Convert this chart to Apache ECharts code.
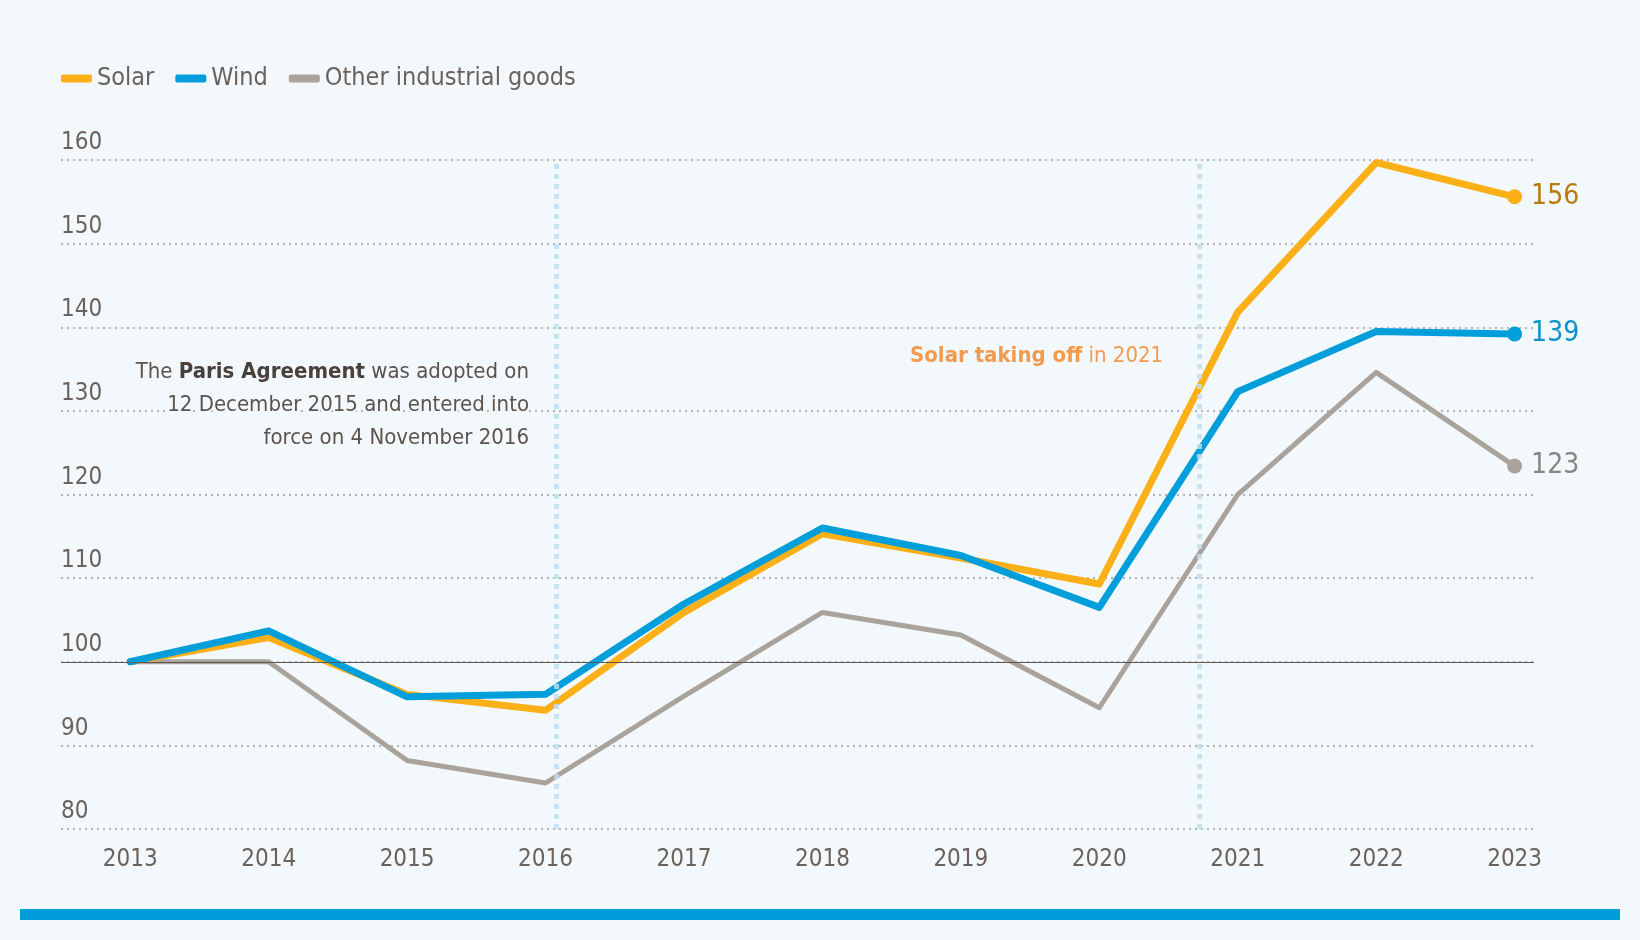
<!DOCTYPE html>
<html>
<head>
<meta charset="utf-8">
<style>
html,body{margin:0;padding:0;background:#f3f8fc;}
#chart{width:1640px;height:940px;}
</style>
<script src="https://cdn.jsdelivr.net/npm/echarts@6/dist/echarts.min.js"></script>
</head>
<body>
<div id="chart"></div>
<script>
var years = [2013, 2014, 2015, 2016, 2017, 2018, 2019, 2020, 2021, 2022, 2023];
var solar = [100, 102.9, 96.1, 94.2, 105.9, 115.3, 112.4, 109.3, 141.8, 159.7, 155.6];
var wind  = [100, 103.7, 95.8, 96.1, 106.9, 116.0, 112.7, 106.5, 132.3, 139.5, 139.2];
var other = [100, 100.0, 88.2, 85.5, 95.9, 105.9, 103.2, 94.5, 120.0, 134.6, 123.4];
var endLabels = ['156', '139', '123'];
var seriesNames = ['Solar', 'Wind', 'Other industrial goods'];
var eventYears = [2016.08, 2020.72];
var baseline = 100;
var yTicks = [80, 90, 100, 110, 120, 130, 140, 150, 160];
var parisLines = [
  'The {b|Paris Agreement} was adopted on',
  '12 December 2015 and entered into',
  'force on 4 November 2016'
];
var solarNote = '{b|Solar taking off} in 2021';

var FONT = "'Liberation Sans Narrow', 'DejaVu Sans Condensed', 'Roboto', sans-serif";
var TXT = '#6b625b';
var BG = '#f3f8fc';

function pairs(vals) { return years.map(function (y, i) { return [y, vals[i]]; }); }

function makeSeries(name, vals, color, width, labelText, labelColor, z) {
  var data = pairs(vals).map(function (p, i) {
    if (i === vals.length - 1) {
      return {
        value: p, symbol: 'circle', symbolSize: 15,
        label: { show: true, position: 'right', distance: 9, formatter: labelText,
                 color: labelColor, fontSize: 28, fontFamily: FONT }
      };
    }
    return { value: p, symbol: 'none' };
  });
  return {
    name: name, type: 'line', data: data, z: z,
    lineStyle: { color: color, width: width, cap: 'round', join: 'round' },
    itemStyle: { color: color },
    emphasis: { disabled: true },
    silent: true, animation: false
  };
}

var sOther = makeSeries(seriesNames[2], other, '#aaa39c', 5, endLabels[2], '#8a847e', 2);
var sSolar = makeSeries(seriesNames[0], solar, '#fbb017', 7, endLabels[0], '#b87a0a', 3);
var sWind  = makeSeries(seriesNames[1], wind, '#009fdb', 7, endLabels[1], '#0a93c8', 4);

sOther.markLine = {
  silent: true, symbol: 'none', label: { show: false }, animation: false,
  lineStyle: { color: '#5e5954', width: 1.2, type: 'solid' },
  data: [{ yAxis: baseline }]
};
sWind.markLine = {
  silent: true, symbol: 'none', label: { show: false }, animation: false,
  lineStyle: { color: 'rgba(190,222,239,0.85)', width: 5, type: [5, 5] },
  data: eventYears.map(function (x) { return { xAxis: x }; })
};

var graphics = parisLines.map(function (t, i) {
  return {
    type: 'text', x: 529, y: 372 + i * 33, z: 10,
    style: {
      text: t, align: 'right', verticalAlign: 'middle',
      fill: '#5c534c', font: '22px ' + FONT,
      stroke: BG, lineWidth: 4,
      rich: { b: { fontWeight: 'bold', fill: '#4a403a', fontSize: 22, fontFamily: FONT, stroke: BG, lineWidth: 4 } }
    }
  };
});
graphics.push({
  type: 'text', x: 910, y: 356, z: 10,
  style: {
    text: solarNote, verticalAlign: 'middle',
    fill: '#f39a4c', font: '22px ' + FONT,
    rich: { b: { fontWeight: 'bold', fill: '#f39a4c', fontSize: 22, fontFamily: FONT } }
  }
});
graphics.push({
  type: 'rect', shape: { x: 20, y: 909, width: 1600, height: 11 },
  style: { fill: '#009ddb' }
});

var chart = echarts.init(document.getElementById('chart'));
chart.setOption({
  backgroundColor: BG,
  animation: false,
  textStyle: { fontFamily: FONT },
  legend: {
    left: 61, top: 66, padding: 0,
    data: seriesNames,
    icon: 'roundRect', itemWidth: 31, itemHeight: 8, itemGap: 21,
    textStyle: { color: TXT, fontSize: 25, fontFamily: FONT }
  },
  grid: { left: 61, right: 106, top: 160, bottom: 111, containLabel: false },
  xAxis: {
    type: 'value', min: 2012.5, max: 2023.14, interval: 0.5,
    axisLine: { show: false }, axisTick: { show: false }, splitLine: { show: false },
    axisLabel: {
      margin: 19, color: TXT, fontSize: 24, fontFamily: FONT,
      showMinLabel: true, showMaxLabel: false,
      formatter: function (v) { return (Math.abs(v - Math.round(v)) < 1e-6) ? String(Math.round(v)) : ''; }
    }
  },
  yAxis: {
    type: 'value', min: yTicks[0], max: yTicks[yTicks.length - 1], interval: 10,
    axisLine: { show: false }, axisTick: { show: false },
    axisLabel: {
      inside: true, color: TXT, fontSize: 24, fontFamily: FONT,
      verticalAlign: 'bottom', padding: [0, 0, 5, 0], margin: 0
    },
    splitLine: { lineStyle: { color: '#a39b94', width: 1.5, type: [2, 4] } }
  },
  series: [sOther, sSolar, sWind],
  graphic: graphics
});
</script>
</body>
</html>
